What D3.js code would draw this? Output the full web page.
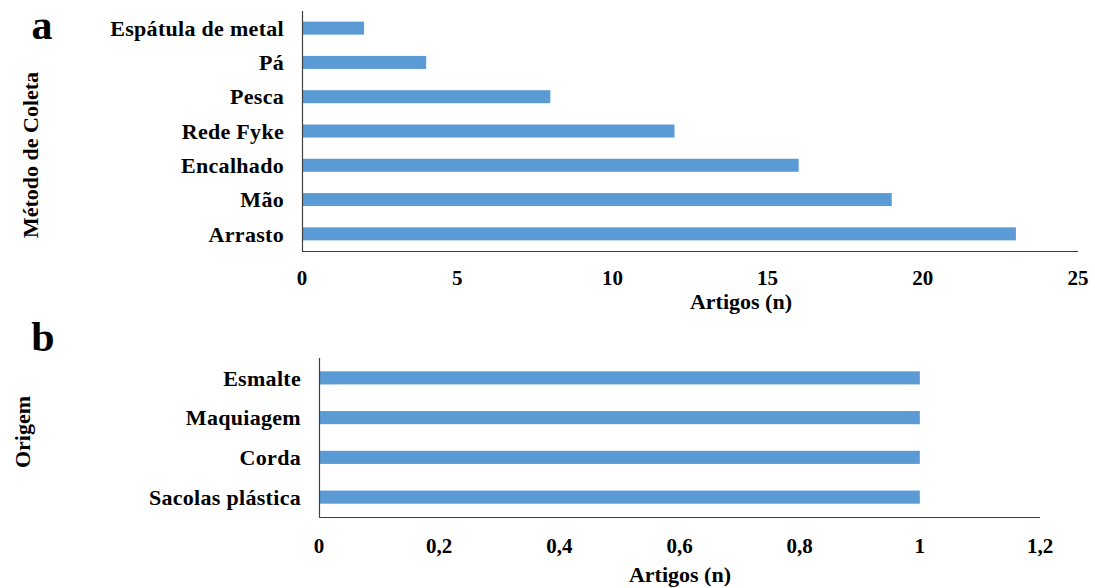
<!DOCTYPE html>
<html>
<head>
<meta charset="utf-8">
<script src="https://cdn.jsdelivr.net/npm/d3@7"></script>
<style>
  html, body { margin: 0; padding: 0; background: #fff; }
  svg { display: block; font-family: "Liberation Serif", "Times New Roman", serif; font-weight: bold; }
</style>
</head>
<body>
<svg id="chart" width="1095" height="588"></svg>
<script>
// Panel a: collection method
const metodoCategorias = ["Espátula de metal", "Pá", "Pesca", "Rede Fyke", "Encalhado", "Mão", "Arrasto"];
const metodoValores = [2, 4, 8, 12, 16, 19, 23];
const metodoTicks = [0, 5, 10, 15, 20, 25];

// Panel b: origin
const origemCategorias = ["Esmalte", "Maquiagem", "Corda", "Sacolas plástica"];
const origemValores = [1, 1, 1, 1];
const origemTicks = [0, 0.2, 0.4, 0.6, 0.8, 1, 1.2];

const barColor = "#5b9bd5";
const axisColor = "#404040";
const svg = d3.select("#chart");

function panel(cfg) {
  const g = svg.append("g");
  const x = d3.scaleLinear().domain(cfg.domain).range([cfg.x0, cfg.x1]);
  const y = d3.scaleBand().domain(cfg.cats).range([cfg.y0, cfg.y1]).paddingInner(cfg.pad).paddingOuter(cfg.pad / 2);

  g.selectAll("rect.bar")
    .data(cfg.cats.map((c, i) => ({ c, v: cfg.vals[i] })))
    .join("rect")
    .attr("class", "bar")
    .attr("x", x(0))
    .attr("y", d => y(d.c))
    .attr("width", d => x(d.v) - x(0))
    .attr("height", y.bandwidth())
    .attr("fill", barColor);

  // category labels
  g.selectAll("text.cat")
    .data(cfg.cats)
    .join("text")
    .attr("class", "cat")
    .attr("x", cfg.x0 - 18)
    .attr("y", d => y(d) + y.bandwidth() / 2)
    .attr("dy", "0.35em")
    .attr("text-anchor", "end")
    .attr("font-size", 22)
    .attr("letter-spacing", 0.3)
    .attr("fill", "#000")
    .text(d => d);

  // axis lines
  g.append("line").attr("x1", cfg.x0 + 0.5).attr("x2", cfg.x0 + 0.5).attr("y1", cfg.y0).attr("y2", cfg.y1)
    .attr("stroke", axisColor).attr("stroke-width", 1.2);
  g.append("line").attr("x1", cfg.x0).attr("x2", cfg.x1).attr("y1", cfg.y1 + 0.5).attr("y2", cfg.y1 + 0.5)
    .attr("stroke", axisColor).attr("stroke-width", 1.2);

  // tick labels
  g.selectAll("text.tick")
    .data(cfg.ticks)
    .join("text")
    .attr("class", "tick")
    .attr("x", d => x(d))
    .attr("y", cfg.y1 + cfg.tickOff)
    .attr("dy", "0.35em")
    .attr("text-anchor", "middle")
    .attr("font-size", 21)
    .text(d => String(d).replace(".", ","));

  // x title
  g.append("text")
    .attr("x", cfg.titleX)
    .attr("y", cfg.y1 + cfg.titleOff)
    .attr("dy", "0.35em")
    .attr("text-anchor", "middle")
    .attr("font-size", 22)
    .text("Artigos (n)");

  // y title
  g.append("text")
    .attr("transform", `translate(${cfg.yTitleX},${cfg.yTitleY}) rotate(-90)`)
    .attr("dy", "0.35em")
    .attr("text-anchor", "middle")
    .attr("font-size", 22)
    .text(cfg.yTitle);

  // panel letter
  g.append("text")
    .attr("x", cfg.letterX)
    .attr("y", cfg.letterY)
    .attr("dy", "0.35em")
    .attr("text-anchor", "middle")
    .attr("font-size", 42)
    .text(cfg.letter);
}

panel({
  cats: metodoCategorias, vals: metodoValores, ticks: metodoTicks, domain: [0, 25],
  x0: 302, x1: 1078, y0: 11, y1: 251, pad: 0.62,
  tickOff: 27, titleOff: 50, titleX: 741,
  yTitle: "Método de Coleta", yTitleX: 30, yTitleY: 155,
  letter: "a", letterX: 42, letterY: 24
});

panel({
  cats: origemCategorias, vals: origemValores, ticks: origemTicks, domain: [0, 1.2],
  x0: 319, x1: 1040, y0: 358, y1: 517, pad: 0.67,
  tickOff: 29, titleOff: 57, titleX: 680,
  yTitle: "Origem", yTitleX: 22, yTitleY: 432,
  letter: "b", letterX: 43, letterY: 336
});
</script>
</body>
</html>
